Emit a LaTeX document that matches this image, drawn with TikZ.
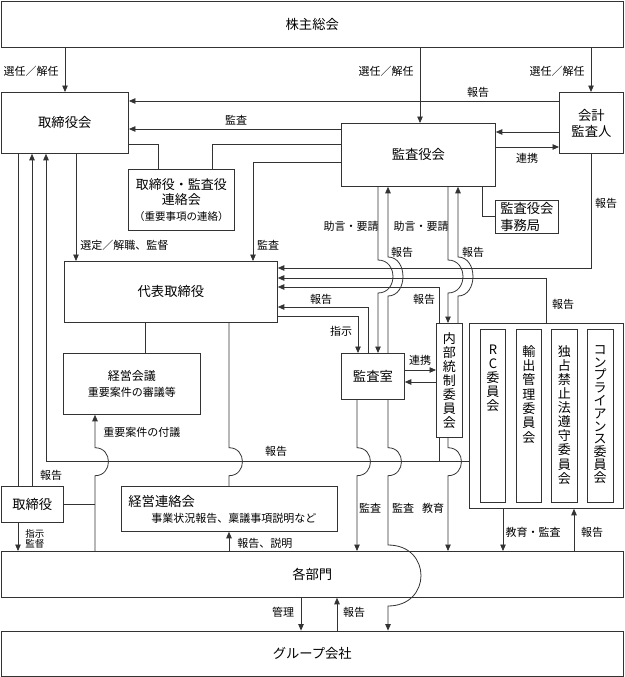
\documentclass[tikz,border=0pt]{standalone}
\usepackage{fontspec}
\setmainfont{Noto Sans CJK JP}
\usetikzlibrary{arrows.meta,positioning,calc}
\newcommand{\rutafont}{\fontsize{13.3}{16}\selectfont}
\newcommand{\etifont}{\fontsize{11}{12}\selectfont}
\newcommand{\hopp}[4]{-- (#1,#2-#3) .. controls (#1+1.33*#4,#2-#3) and (#1+1.33*#4,#2+#3) .. (#1,#2+#3)}

\begin{document}
\begin{tikzpicture}[
  x=1pt, y=-1pt,
  ruta/.style={draw=black!80,anchor=north west,inner sep=0pt,align=center,font=\rutafont},
  etikett/.style={font=\etifont,inner sep=0pt},
  tate/.style={font=\fontsize{13}{14}\selectfont,align=center,inner sep=0pt,anchor=north},
  linje/.style={draw=black!80},
  line width=.8pt,
  >={Triangle[length=6.5pt,width=5.5pt]}
  ]
  \useasboundingbox (0,0) rectangle (624,677);

  \node [ruta,minimum width=622.5pt,minimum height=46.5pt] (soukai) at (0.6,0.6) {株主総会};
  \node [ruta,minimum width=127.5pt,minimum height=61pt] (torikai) at (0.6,92) {取締役会};
  \node [ruta,minimum width=154pt,minimum height=63pt] (kansayaku) at (341,123) {監査役会};
  \node [ruta,minimum width=64pt,minimum height=61pt] (kaikei) at (559,92) {会計\\監査人};
  \node [ruta,minimum width=106pt,minimum height=61pt,font=\fontsize{13}{15.5}\selectfont] (renraku) at (128,169)
        {取締役・監査役\\連絡会\\{\fontsize{10.5}{12}\selectfont （重要事項の連絡）}};
  \node [ruta,minimum width=63pt,minimum height=33pt,align=left,font=\fontsize{13.3}{16.5}\selectfont] (jimukyoku) at (495,200) {監査役会\\事務局};
  \node [ruta,minimum width=213pt,minimum height=61pt] (daihyo) at (64,261) {代表取締役};
  \node [ruta,minimum width=137pt,minimum height=61pt,font=\fontsize{12}{16.5}\selectfont] (keiei) at (63,353)
        {経営会議\\{\etifont 重要案件の審議等}};
  \node [ruta,minimum width=63pt,minimum height=46pt] (kansashitsu) at (341,353) {監査室};
  \node [ruta,minimum width=26pt,minimum height=114pt,font=\fontsize{13}{13.9}\selectfont] (naibu) at (436,323)
        {内\\部\\統\\制\\委\\員\\会};
  \node [ruta,minimum width=154pt,minimum height=185pt] (iinkai) at (469,323) {};
  \node [ruta,minimum width=25pt,minimum height=173pt] (rc) at (480,329) {};
  \node [ruta,minimum width=25pt,minimum height=173pt] (yushutsu) at (516,329) {};
  \node [ruta,minimum width=26pt,minimum height=173pt] (dokusen) at (551,329) {};
  \node [ruta,minimum width=25.5pt,minimum height=173pt] (konpura) at (587,329) {};
  \node [tate] (rcT) at ($(rc.north)+(0,16)$) {R\\C\\委\\員\\会};
  \node [tate,font=\fontsize{13}{14.3}\selectfont] (yushutsuT) at ($(yushutsu.north)+(0,16)$) {輸\\出\\管\\理\\委\\員\\会};
  \node [tate,font=\fontsize{13}{14.1}\selectfont] (dokusenT) at ($(dokusen.north)+(0,16)$) {独\\占\\禁\\止\\法\\遵\\守\\委\\員\\会};
  \node [tate,font=\fontsize{13}{12.8}\selectfont] (konpuraT) at ($(konpura.north)+(0,16)$) {コ\\ン\\プ\\ラ\\イ\\ア\\ン\\ス\\委\\員\\会};
  \node [ruta,minimum width=62.5pt,minimum height=36pt] (torishimari) at (0.6,486) {取締役};
  \node [ruta,minimum width=216pt,minimum height=45pt,align=left,text width=202pt,font=\fontsize{11}{16}\selectfont] (keieiren) at (121,486)
        {{\fontsize{13.3}{16}\selectfont 経営連絡会}\\\hspace*{23pt}事業状況報告、稟議事項説明など};
  \node [ruta,minimum width=622.5pt,minimum height=46pt] (kakubumon) at (0.6,551) {各部門};
  \node [ruta,minimum width=622.5pt,minimum height=45.6pt] (group) at (0.6,630.6) {グループ会社};
  \coordinate (bus) at (iinkai.west |- 0,461.7);

  \draw[linje,->] (soukai.south -| 65,0) -- (torikai.north -| 65,0);
  \draw[linje,->] (soukai.south -| 420,0) -- (kansayaku.north -| 420,0);
  \draw[linje,->] (soukai.south -| 591,0) -- (kaikei.north -| 591,0);
  \draw[linje,->] (kaikei.west |- 0,101) -- (torikai.east |- 0,101);
  \draw[linje,->] (kansayaku.west |- 0,129) -- (torikai.east |- 0,129);
  \draw[linje] (torikai.east |- 0,144) -| (renraku.north -| 158,0);
  \draw[linje] (renraku.north -| 212,0) |- (kansayaku.west |- 0,144);
  \draw[linje,->] (kansayaku.west |- 0,162) -| (daihyo.north -| 253,0);
  \draw[linje,->] (kaikei.west |- 0,132) -- (kansayaku.east |- 0,132);
  \draw[linje,->] (kansayaku.east |- 0,147) -- (kaikei.west |- 0,147);
  \draw[linje] (kansayaku.south -| 482,0) |- (jimukyoku.west |- 0,216);

  \draw[linje,->] (kaikei.south) |- (daihyo.east |- 0,268);
  \draw[linje,->] (iinkai.north -| 546,0) |- (daihyo.east |- 0,278);
  \draw[linje,->] (naibu.north -| 439,0) |- (daihyo.east |- 0,287);
  \draw[linje,->] (kansashitsu.north -| 368,0) |- (daihyo.east |- 0,307);
  \draw[linje,->] (daihyo.east |- 0,316) -| (kansashitsu.north -| 358,0);
  \draw[linje,->] (kansayaku.south -| 378,0) \hopp{378}{276.5}{16.5}{15} -- (kansashitsu.north -| 378,0);
  \draw[linje,<-] (kansayaku.south -| 388,0) \hopp{388}{276.5}{19.5}{15} -- (kansashitsu.north -| 388,0);
  \draw[linje,->] (kansayaku.south -| 448,0) \hopp{448}{276.5}{16.5}{15} -- (naibu.north -| 448,0);
  \draw[linje,<-] (kansayaku.south -| 458,0) \hopp{458}{276.5}{19.5}{15} -- (naibu.north -| 458,0);
  \draw[linje,->] (kansashitsu.east |- 0,370) -- (naibu.west |- 0,370);
  \draw[linje,->] (naibu.west |- 0,382) -- (kansashitsu.east |- 0,382);

  \draw[linje,->] (torikai.south -| 76,0) -- (daihyo.north -| 76,0);
  \draw[linje] (daihyo.south -| 145,0) -- (keiei.north -| 145,0);
  \draw[linje] (daihyo.south -| 229,0) \hopp{229}{461.7}{14}{13.5} -- (keieiren.north -| 229,0);
  \draw[linje] (torikai.south -| 18,0) -- (torishimari.north -| 18,0);
  \draw[linje,->] (torishimari.north -| 32,0) -- (torikai.south -| 32,0);
  \draw[linje,->] (bus) -| (torikai.south -| 46,0);
  \draw[linje] (naibu.south -| 439,0) -- (bus -| 439,0);
  \draw[linje,<-] (keiei.south -| 95,0) \hopp{95}{461.7}{14}{13.5} -- (kakubumon.north -| 95,0);
  \draw[linje] (torishimari.east) -- (torishimari.east -| 95,0);
  \draw[linje,->] (torishimari.south -| 18,0) -- (kakubumon.north -| 18,0);
  \draw[linje,<-] (keieiren.south -| 229,0) -- (kakubumon.north -| 229,0);
  \draw[linje,->] (kansashitsu.south -| 357,0) \hopp{357}{461.7}{14}{13.5} -- (kakubumon.north -| 357,0);
  \draw[linje,->] (kansashitsu.south -| 388,0) \hopp{388}{461.7}{14}{13.5} -- (388,545)
        .. controls (432,545) and (432,606) .. (388,606) -- (group.north -| 388,0);
  \draw[linje,->] (naibu.south -| 448,0) \hopp{448}{461.7}{14}{13.5} -- (kakubumon.north -| 448,0);
  \draw[linje,->] (iinkai.south -| 503,0) -- (kakubumon.north -| 503,0);
  \draw[linje,<-] (iinkai.south -| 574,0) -- (kakubumon.north -| 574,0);
  \draw[linje,->] (kakubumon.south -| 301,0) -- (group.north -| 301,0);
  \draw[linje,<-] (kakubumon.south -| 337,0) -- (group.north -| 337,0);

  \node [etikett] (sennin1) at (31,71) {選任／解任};
  \node [etikett] (sennin2) at (386,71) {選任／解任};
  \node [etikett] (sennin3) at (557,71) {選任／解任};
  \node [etikett] (houkoku1) at (478,92) {報告};
  \node [etikett] (kansa1) at (236,120) {監査};
  \node [etikett] (renkei1) at (527,158) {連携};
  \node [etikett] (houkoku2) at (606,203) {報告};
  \node [etikett] (jogen1) at (351,226) {助言・要請};
  \node [etikett] (jogen2) at (421,226) {助言・要請};
  \node [etikett,anchor=west] (sentei) at (80,245) {選定／解職、監督};
  \node [etikett] (kansa2) at (268,245) {監査};
  \node [etikett] (houkoku3) at (402,252) {報告};
  \node [etikett] (houkoku4) at (473,252) {報告};
  \node [etikett] (houkoku5) at (321,299) {報告};
  \node [etikett] (houkoku6) at (424,299) {報告};
  \node [etikett] (houkoku7) at (563,304) {報告};
  \node [etikett] (shiji1) at (341,331) {指示};
  \node [etikett] (renkei2) at (420,360) {連携};
  \node [etikett,anchor=west] (fugi) at (103,432) {重要案件の付議};
  \node [etikett] (houkoku8) at (276,451) {報告};
  \node [etikett] (houkoku9) at (51,475) {報告};
  \node [etikett] (kansa3) at (370,508) {監査};
  \node [etikett] (kansa4) at (403,508) {監査};
  \node [etikett] (kyouiku) at (433,508) {教育};
  \node [etikett] (kyoukan) at (533,532) {教育・監査};
  \node [etikett] (houkoku10) at (592,532) {報告};
  \node [etikett,anchor=west,align=left,font=\fontsize{9.5}{10.5}\selectfont] (shiji2) at (25,539) {指示\\監督};
  \node [etikett,anchor=west] (setsumei) at (237,543) {報告、説明};
  \node [etikett] (kanri) at (283,612) {管理};
  \node [etikett] (houkoku11) at (354,612) {報告};
\end{tikzpicture}
\end{document}
